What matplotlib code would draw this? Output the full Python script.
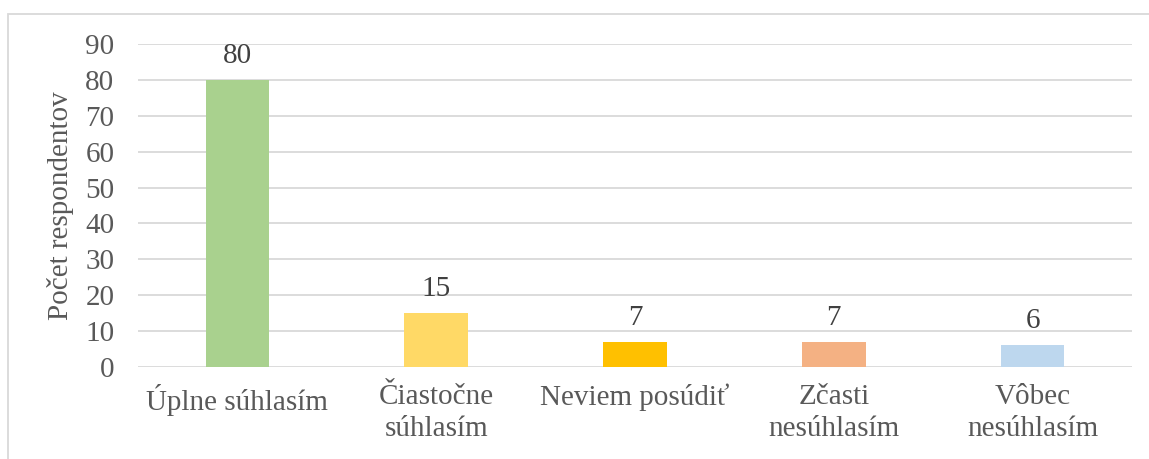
import matplotlib
matplotlib.use('Agg')
import matplotlib.pyplot as plt
from matplotlib.patches import Rectangle

# Data
categories = ['Úplne súhlasím', 'Čiastočne\nsúhlasím', 'Neviem posúdiť',
              'Zčasti\nnesúhlasím', 'Vôbec\nnesúhlasím']
values     = [80, 15, 7, 7, 6]
colors     = ['#A9D18E', '#FFD966', '#FFC000', '#F4B183', '#BDD7EE']
yticks     = list(range(0, 100, 10))

TEXT = '#595959'
FS = 21
plt.rcParams['font.family'] = ['Liberation Serif', 'DejaVu Serif']

fig = plt.figure(figsize=(11.49, 4.59), dpi=100)
ax = fig.add_axes([0.1201, 0.2004, 0.8651, 0.7037])

# chart border like the office chart frame
fig.patches.append(Rectangle((8 / 1149, -0.1), 1.2, 1 - 14 / 459 + 0.1,
                             transform=fig.transFigure, fill=False,
                             edgecolor='#D9D9D9', lw=1.3))

x = range(len(categories))
bars = ax.bar(x, values, width=0.32, color=colors, zorder=3)
for bar, v in zip(bars, values):
    ax.annotate(str(v), (bar.get_x() + bar.get_width() / 2, v),
                xytext=(0, 8), textcoords='offset points',
                ha='center', va='bottom', fontsize=FS, color='#404040')

ax.set_xlim(-0.5, len(categories) - 0.5)
ax.set_ylim(0, 90)
ax.set_yticks(yticks)
ax.set_xticks(list(x))
ax.set_xticklabels(categories, fontsize=FS, color=TEXT, linespacing=1.3, va='top')
ax.tick_params(axis='y', labelsize=FS, labelcolor=TEXT, length=0, pad=17)
ax.tick_params(axis='x', length=0, pad=12)
ax.set_ylabel('Počet respondentov', fontsize=FS, color=TEXT, labelpad=8)

ax.grid(axis='y', color='#D9D9D9', lw=1.3, zorder=0)
for s in ax.spines.values():
    s.set_visible(False)

plt.savefig('out.png', dpi=100)
plt.close()
